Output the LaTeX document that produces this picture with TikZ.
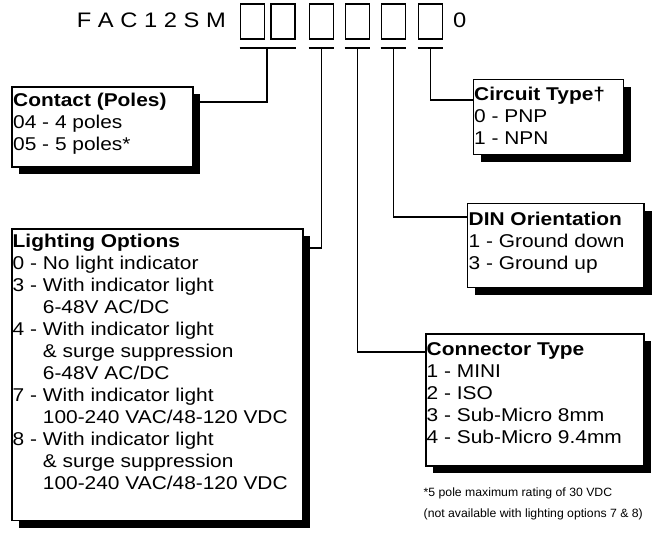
\documentclass[tikz,border=0pt]{standalone}
\usepackage{fontspec}
\newfontfamily\optf{Liberation Sans}[FakeStretch=1.13]
\newfontfamily\notef{Liberation Sans}[FakeStretch=1.02]
\usetikzlibrary{shadows}
\begin{document}
\begin{tikzpicture}[x=1pt,y=-1pt,
  lw/.style={line width=1.7pt},
  digitbox/.style={draw, lw, minimum width=24pt, minimum height=35pt, inner sep=0pt},
  optbox/.style={draw, lw, fill=white, inner sep=0pt, anchor=north west,
    drop shadow={shadow xshift=7.5pt, shadow yshift=-7.5pt, opacity=1, fill=black}},
  opttext/.style={inner sep=0pt, anchor=north west, align=left,
    font=\optf\fontsize{18.5}{22}\selectfont},
  codetext/.style={inner sep=0pt, font=\optf\fontsize{21}{25}\selectfont},
  notetext/.style={inner sep=0pt, anchor=north west, align=left,
    font=\notef\fontsize{12}{20.5}\selectfont},
  conn/.style={lw},
]
\useasboundingbox (0,0) rectangle (653,543);

% code line
\node[codetext, anchor=base east] (code) at (226,28) {F A C 1 2 S M};
\node[digitbox] (b1) at (252.5,21.5) {};
\node[digitbox] (b2) at (283,21.5) {};
\node[digitbox] (b3) at (321.5,21.5) {};
\node[digitbox] (b4) at (357.5,21.5) {};
\node[digitbox] (b5) at (393.5,21.5) {};
\node[digitbox] (b6) at (430.5,21.5) {};
\node[codetext, anchor=base west] (zero) at (453,28) {0};

% T bars
\coordinate (t1) at (267.25,47.5);
\coordinate (t3) at (321.5,47.5);
\coordinate (t4) at (357.5,47.5);
\coordinate (t5) at (393.5,47.5);
\coordinate (t6) at (430.5,47.5);
\draw[conn] ([yshift=-8.5pt]b1.south west) -- ([yshift=-8.5pt]b2.south east);
\foreach \b in {3,4,5,6}{
  \draw[conn] ([yshift=-8.5pt]b\b.south west) -- ([yshift=-8.5pt]b\b.south east);
}

% boxes
\node[optbox, minimum width=181pt, minimum height=80pt] (contact) at (11,86) {};
\node[optbox, minimum width=150pt, minimum height=75pt] (circuit) at (472.5,78.5) {};
\node[optbox, minimum width=176.6pt, minimum height=84pt] (din) at (466.7,202.7) {};
\node[optbox, minimum width=218pt, minimum height=132pt] (contype) at (425,333) {};
\node[optbox, minimum width=291pt, minimum height=291.5pt] (light) at (11,228) {};

% connectors
\draw[conn] (t1) |- ([yshift=-15.7pt]contact.north east);
\draw[conn] (t3) |- ([yshift=-20pt]light.north east);
\draw[conn] (t4) |- ([yshift=-18.7pt]contype.north west);
\draw[conn] (t5) |- ([yshift=-14pt]din.north west);
\draw[conn] (t6) |- ([yshift=-21.5pt]circuit.north west);

% texts
\node[opttext] (contactT) at (13,92) {\rule{0pt}{14pt}\textbf{Contact (Poles)}\\04 - 4 poles\\05 - 5 poles*};
\node[opttext] (circuitT) at (474,86) {\rule{0pt}{14pt}\textbf{Circuit Type†}\\0 - PNP\\1 - NPN};
\node[opttext] (dinT) at (468.5,211) {\rule{0pt}{14pt}\textbf{DIN Orientation}\\1 - Ground down\\3 - Ground up};
\node[opttext] (contypeT) at (426.5,341) {\rule{0pt}{14pt}\textbf{Connector Type}\\1 - MINI\\2 - ISO\\3 - Sub-Micro 8mm\\4 - Sub-Micro 9.4mm};
\node[opttext] (lightT) at (12.5,233) {\rule{0pt}{14pt}\textbf{Lighting Options}\\0 - No light indicator\\3 - With indicator light\\\phantom{3 - }6-48V AC/DC\\4 - With indicator light\\\phantom{4 - }\& surge suppression\\\phantom{4 - }6-48V AC/DC\\7 - With indicator light\\\phantom{7 - }100-240 VAC/48-120 VDC\\8 - With indicator light\\\phantom{8 - }\& surge suppression\\\phantom{8 - }100-240 VAC/48-120 VDC};

% footnote
\node[notetext] (note) at (423.5,486.7) {\rule{0pt}{10pt}*5 pole maximum rating of 30 VDC\\(not available with lighting options 7 \& 8)};
\end{tikzpicture}
\end{document}
